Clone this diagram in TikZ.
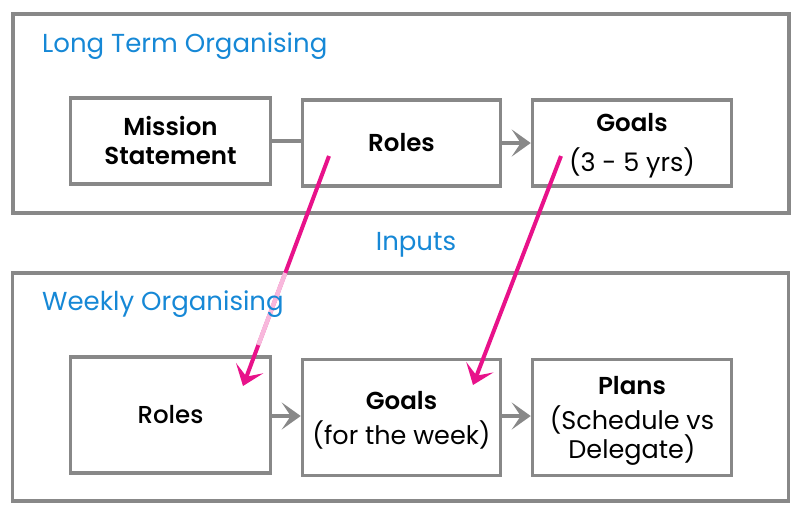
\documentclass[tikz,border=0pt]{standalone}
\usepackage{fontspec}
\setmainfont{Poppins}[BoldFont={Poppins SemiBold}]
\newfontfamily\medfont{Poppins Medium}
\usetikzlibrary{arrows.meta}
\definecolor{boxgrey}{HTML}{888888}
\definecolor{titleblue}{HTML}{1688D6}
\definecolor{mag}{HTML}{E8128A}
\newcommand{\bsz}{\fontsize{24.5}{29}\selectfont}
\begin{document}
\begin{tikzpicture}[x=1pt,y=-1pt,
  outerbox/.style={draw=boxgrey, line width=3.5pt, inner sep=0pt},
  inbox/.style={draw=boxgrey, line width=3.5pt, inner sep=0pt, align=center,
    font=\fontsize{25.5}{29}\selectfont, text=black},
  boxtext/.style={inner sep=0pt, align=center, font=\fontsize{25.5}{29}\selectfont, text=black},
  title/.style={text=titleblue, font=\fontsize{26}{30}\selectfont, inner sep=0pt},
  greyarrow/.style={draw=boxgrey, line width=4pt, -{Stealth[length=19pt,width=27pt,inset=9pt]}},
  greyline/.style={draw=boxgrey, line width=4pt},
  pinkarrow/.style={draw=mag, line width=4pt, -{Stealth[length=19pt,width=29pt,inset=9pt]}},
]
\useasboundingbox (0,0) rectangle (804,515);
% outer boxes
\node[outerbox, minimum width=776pt, minimum height=199pt] (outer1) at (401,113.5) {};
\node[outerbox, minimum width=776pt, minimum height=228pt] (outer2) at (400.5,387) {};
% inner boxes
\node[inbox, minimum width=200pt, minimum height=86pt] (mission) at (170.5,141)
  {\bsz\bfseries Mission\\\bsz\bfseries Statement};
\node[inbox, minimum width=198pt, minimum height=86pt] (roles1) at (401.5,143)
  {\bsz\bfseries Roles};
\node[inbox, minimum width=199pt, minimum height=86pt] (goals1) at (632,143) {};
\node[inbox, minimum width=200pt, minimum height=116pt] (roles2) at (170.5,415)
  {\bsz\medfont Roles};
\node[inbox, minimum width=198pt, minimum height=116pt] (goals2) at (401.5,417.5) {};
\node[inbox, minimum width=199pt, minimum height=116pt] (plans) at (632,417.5) {};
% texts of multi-line boxes
\node[boxtext] (goals1t) at ([yshift=-3pt]goals1.center)
  {\bsz\bfseries Goals\\[11pt](3 - 5 yrs)};
\node[boxtext] (goals2t) at ([yshift=-3pt]goals2.center)
  {\bsz\bfseries Goals\\[6pt](for the week)};
\node[boxtext] (planst) at ([yshift=-3pt]plans.center)
  {\bsz\bfseries Plans\\[6pt](Schedule vs\\Delegate)};
% grey connectors
\draw[greyline] (mission.east) -- (mission.east -| roles1.west);
\draw[greyarrow] (roles1.east) -- (goals1.west);
\draw[greyarrow] (roles2.east |- 0,416) -- (goals2.west |- 0,416);
\draw[greyarrow] (goals2.east |- 0,416) -- (plans.west |- 0,416);
% pink arrows
\coordinate (p1s) at (329,156);
\coordinate (p1e) at (243,386);
\coordinate (p2s) at (561,156);
\coordinate (p2e) at (473,385);
\coordinate (f1) at (285.3,273);
\coordinate (f2) at (258.3,345);
\draw[pinkarrow] (p1s) -- (p1e);
\draw[pinkarrow] (p2s) -- (p2e);
\draw[draw=mag!30, line width=4.4pt] (f1) -- (f2);
% titles
\node[title, anchor=base west] (lt) at (42,52) {Long Term Organising};
\node[title, anchor=base west] (wo) at (42,310) {Weekly Organising};
\node[title, anchor=base] (inp) at (416,250) {Inputs};
\end{tikzpicture}
\end{document}
